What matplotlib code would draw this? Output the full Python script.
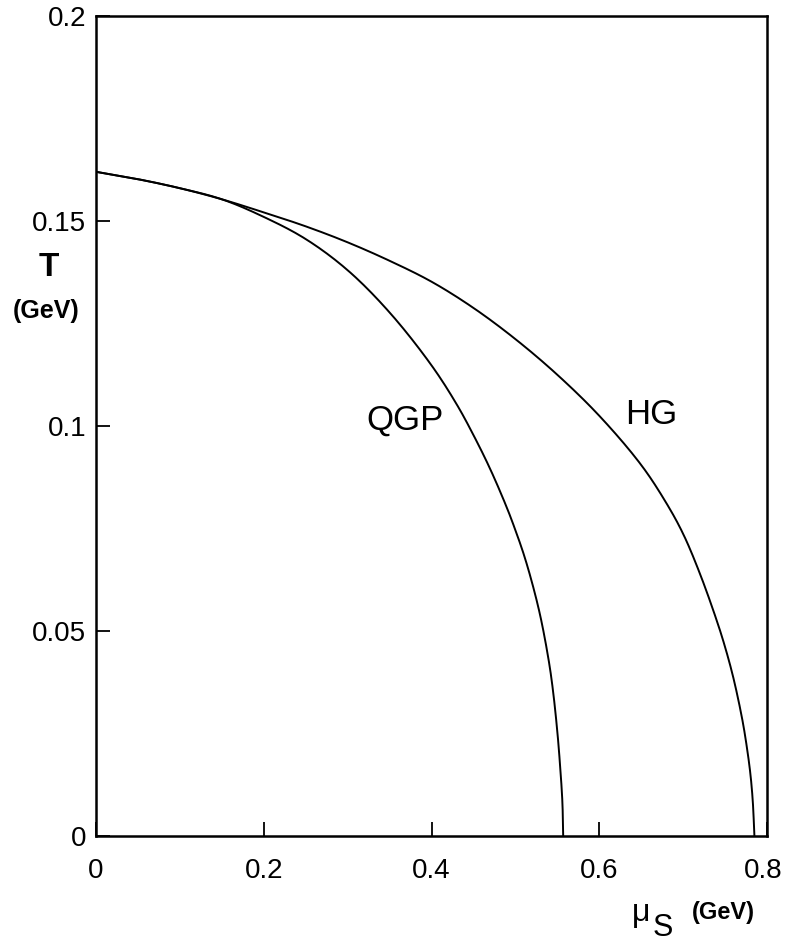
import numpy as np
import matplotlib
matplotlib.use("Agg")
import matplotlib.pyplot as plt
import matplotlib.transforms as mtransforms

plt.rcParams['font.family'] = ['Liberation Sans', 'DejaVu Sans']

# Phase boundaries T(mu_s), shared low-mu part followed by each branch
mu_shared = [0.0, 0.05, 0.10, 0.15]
T_shared = [0.1620, 0.1602, 0.1580, 0.1553]

mu_qgp = [0.20, 0.25, 0.30, 0.35, 0.40, 0.43, 0.45, 0.47, 0.49, 0.50, 0.51,
          0.52, 0.53, 0.54, 0.545, 0.55, 0.553, 0.556, 0.557]
T_qgp = [0.1510, 0.1456, 0.1380, 0.1277, 0.1148, 0.1053, 0.0978, 0.0895,
         0.0800, 0.0746, 0.0687, 0.0617, 0.0534, 0.0425, 0.0352, 0.0255,
         0.0180, 0.0085, 0.0]

mu_hg = [0.20, 0.25, 0.30, 0.35, 0.40, 0.45, 0.50, 0.55, 0.60, 0.65, 0.68,
         0.70, 0.72, 0.74, 0.75, 0.76, 0.77, 0.775, 0.78, 0.783, 0.785]
T_hg = [0.1521, 0.1487, 0.1448, 0.1403, 0.1352, 0.1288, 0.1212, 0.1125,
        0.1025, 0.0905, 0.0812, 0.0737, 0.0640, 0.0526, 0.0461, 0.0385,
        0.0290, 0.0230, 0.0155, 0.0086, 0.0]

x_ticks = [0, 0.2, 0.4, 0.6, 0.8]
x_labels = ['0', '0.2', '0.4', '0.6', '0.8']
y_ticks = [0, 0.05, 0.1, 0.15, 0.2]
y_labels = ['0', '0.05', '0.1', '0.15', '0.2']


def smooth(xs, ys, sx=840.0, sy=4100.0, n=16):
    """Centripetal Catmull-Rom curve through the points (scaled to screen
    proportions so the knot spacing follows the drawn curve)."""
    p = np.column_stack([np.asarray(xs) * sx, np.asarray(ys) * sy])
    p = np.vstack([2 * p[0] - p[1], p, 2 * p[-1] - p[-2]])
    out = []
    for i in range(1, len(p) - 2):
        P0, P1, P2, P3 = p[i - 1], p[i], p[i + 1], p[i + 2]
        t0 = 0.0
        t1 = t0 + np.linalg.norm(P1 - P0) ** 0.5
        t2 = t1 + np.linalg.norm(P2 - P1) ** 0.5
        t3 = t2 + np.linalg.norm(P3 - P2) ** 0.5
        t = np.linspace(t1, t2, n, endpoint=False)[:, None]
        A1 = (t1 - t) / (t1 - t0) * P0 + (t - t0) / (t1 - t0) * P1
        A2 = (t2 - t) / (t2 - t1) * P1 + (t - t1) / (t2 - t1) * P2
        A3 = (t3 - t) / (t3 - t2) * P2 + (t - t2) / (t3 - t2) * P3
        B1 = (t2 - t) / (t2 - t0) * A1 + (t - t0) / (t2 - t0) * A2
        B2 = (t3 - t) / (t3 - t1) * A2 + (t - t1) / (t3 - t1) * A3
        C = (t2 - t) / (t2 - t1) * B1 + (t - t1) / (t2 - t1) * B2
        out.append(C)
    out.append(p[-2][None, :])
    c = np.vstack(out)
    return c[:, 0] / sx, c[:, 1] / sy


W, H = 785, 942
fig = plt.figure(figsize=(W / 100, H / 100), dpi=100)
L, R, TOP, BOT = 96, 767, 16, 836
ax = fig.add_axes([L / W, 1 - BOT / H, (R - L) / W, (BOT - TOP) / H])

for mu_b, T_b in ((mu_qgp, T_qgp), (mu_hg, T_hg)):
    cx, cy = smooth(mu_shared + mu_b, T_shared + T_b)
    ax.plot(cx, cy, color='black', lw=1.4, solid_capstyle='butt')

ax.set_xlim(0, 0.8)
ax.set_ylim(0, 0.2)
ax.set_xticks(x_ticks)
ax.set_xticklabels(x_labels)
ax.set_yticks(y_ticks)
ax.set_yticklabels(y_labels)
ax.tick_params(direction='in', length=10, width=1.3, labelsize=20,
               colors='black')
ax.tick_params(axis='x', pad=16)
ax.tick_params(axis='y', pad=7)
for s in ax.spines.values():
    s.set_linewidth(1.8)

# keep the last x label inside the canvas
last = ax.get_xticklabels()[-1]
last.set_transform(last.get_transform()
                   + mtransforms.ScaledTranslation(-4 / 100, 0,
                                                   fig.dpi_scale_trans))

ax.text(0.368, 0.1015, 'QGP', fontsize=25, ha='center', va='center')
ax.text(0.662, 0.1027, 'HG', fontsize=25, ha='center', va='center')


def ftext(x, y, s, **kw):
    fig.text(x / W, 1 - y / H, s, **kw)


ftext(49, 268, 'T', fontsize=24, fontweight='bold', ha='center', va='center')
ftext(46, 311, '(GeV)', fontsize=18, fontweight='bold', ha='center',
      va='center')
ftext(641, 913, 'μ', fontsize=23, ha='center', va='center')
ftext(663, 928, 'S', fontsize=22, ha='center', va='center')
ftext(723, 912, '(GeV)', fontsize=17, fontweight='bold', ha='center',
      va='center')

fig.savefig('out.png', dpi=100, facecolor='white')
